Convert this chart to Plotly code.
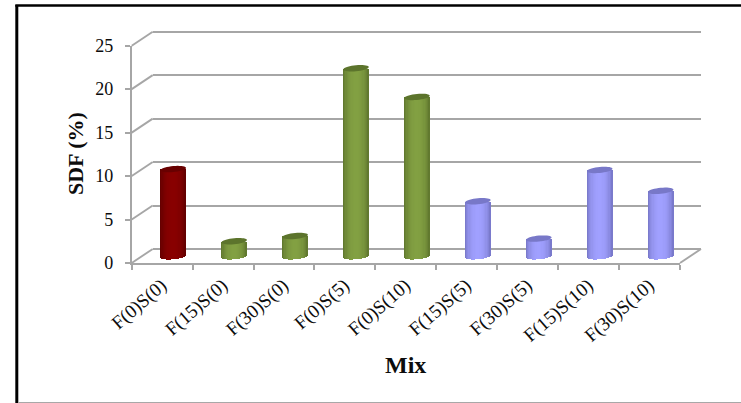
import math
import plotly.graph_objects as go

# Chart data
categories = ["F(0)S(0)", "F(15)S(0)", "F(30)S(0)", "F(0)S(5)", "F(0)S(10)",
              "F(15)S(5)", "F(30)S(5)", "F(15)S(10)", "F(30)S(10)"]
sdf_values = [10.0, 1.7, 2.3, 21.6, 18.3, 6.3, 2.0, 9.9, 7.5]
y_ticks = [0, 5, 10, 15, 20, 25]
y_title = "SDF (%)"
x_title = "Mix"

# (edge colour, centre colour, cap colour) of each cylinder family
RED = ((92, 0, 0), (136, 0, 0), (104, 0, 0))
GREEN = ((88, 110, 42), (130, 160, 66), (92, 116, 44))
BLUE = ((112, 112, 190), (160, 160, 255), (120, 120, 200))
palette = [RED, GREEN, GREEN, GREEN, GREEN, BLUE, BLUE, BLUE, BLUE]

W, H = 741, 403
# Front plane of the pseudo-3D box, in pixels
LEFT, RIGHT, BOTTOM, TOP = 131.7, 680.0, 263.0, 45.7
DEPTH_X, DEPTH_Y = 21.0, 14.0
YMAX = 25
PPU = (BOTTOM - TOP) / YMAX
BAR_W_PX = 25.5
RX, RY, TILT = BAR_W_PX / 2, 3.0, 1.2
SLICES = 21
GRID = "#a6a6a6"
GRID_W = 1.9
FONT = "Liberation Serif"
INK = "#0c0c0c"
PAD = 0.5  # extra y units kept around the value range so the end gridlines stay drawn
LABEL_NUDGE = 0.01  # rotated labels sit slightly left of their slot centre

def xdom(shift):
    return [(LEFT + shift) / W, (RIGHT + shift) / W]

def ydom(shift, low=0.0, high=0.0):
    return [1 - (BOTTOM - shift + low * PPU) / H, 1 - (TOP - shift - high * PPU) / H]

def mix(a, b, f):
    return "rgb(%d,%d,%d)" % tuple(round(p + (q - p) * f) for p, q in zip(a, b))

fig = go.Figure()

# Front plane: holds the visible axes
fig.add_trace(go.Scatter(x=[], y=[], xaxis="x", yaxis="y", showlegend=False))
# Back wall: holds the gridlines
fig.add_trace(go.Scatter(x=[], y=[], xaxis="x2", yaxis="y2", showlegend=False))

# Each cylinder is a row of thin bars shaded from edge to centre, with a curved foot
slot_px = (RIGHT - LEFT) / len(categories)
slice_w = BAR_W_PX / SLICES / slot_px
for i, (val, cols) in enumerate(zip(sdf_values, palette)):
    xs, tops, bases, colors = [], [], [], []
    for s in range(SLICES):
        t = (s + 0.5) / SLICES * 2 - 1
        curve = math.sqrt(1 - t * t)
        foot = (-RY * curve + TILT * t) / PPU
        xs.append(i + t * BAR_W_PX / 2 / slot_px)
        bases.append(foot)
        tops.append(val - foot)
        colors.append(mix(cols[0], cols[1], curve ** 1.3))
    fig.add_trace(go.Bar(x=xs, y=tops, base=bases, width=slice_w * 1.06,
                         marker=dict(color=colors, line_width=0),
                         xaxis="x3", yaxis="y3", showlegend=False,
                         hoverinfo="skip"))

shapes = []

# Diagonals joining the front plane to the back wall at every y tick
for v in y_ticks:
    py = BOTTOM - v * PPU
    shapes.append(dict(type="line", xref="paper", yref="paper", layer="below",
                       x0=LEFT / W, x1=(LEFT + DEPTH_X) / W,
                       y0=1 - py / H, y1=1 - (py - DEPTH_Y) / H,
                       line=dict(color=GRID, width=GRID_W)))
# Right edge of the floor
shapes.append(dict(type="line", xref="paper", yref="paper", layer="below",
                   x0=RIGHT / W, x1=(RIGHT + DEPTH_X) / W,
                   y0=1 - BOTTOM / H, y1=1 - (BOTTOM - DEPTH_Y) / H,
                   line=dict(color=GRID, width=GRID_W)))

# Tilted elliptical caps, anchored at each bar's value
ring = [(RX * math.cos(a * math.pi / 18),
         RY * math.sin(a * math.pi / 18) + TILT * math.cos(a * math.pi / 18))
        for a in range(36)]
cap_path = "M" + " L".join("%.2f,%.2f" % p for p in ring) + " Z"
for i, (val, cols) in enumerate(zip(sdf_values, palette)):
    shapes.append(dict(type="path", path=cap_path, xref="x3", yref="y3",
                       xsizemode="pixel", ysizemode="pixel",
                       xanchor=i, yanchor=val,
                       fillcolor=mix(cols[2], cols[2], 0), line_width=0, layer="above"))

# Outer frame
shapes += [
    dict(type="line", xref="paper", yref="paper", x0=16.8 / W, x1=16.8 / W,
         y0=0, y1=1 - 5 / H, line=dict(color="#000000", width=3)),
    dict(type="line", xref="paper", yref="paper", x0=15.3 / W, x1=1,
         y0=1 - 5.5 / H, y1=1 - 5.5 / H, line=dict(color="#000000", width=2.6)),
    dict(type="line", xref="paper", yref="paper", x0=18 / W, x1=1,
         y0=1 - 402.5 / H, y1=1 - 402.5 / H, line=dict(color="#a8a8a8", width=1)),
]

annotations = [
    dict(text="<b>%s</b>" % y_title, xref="paper", yref="paper", showarrow=False,
         x=75 / W, y=1 - 154 / H, textangle=-90, xanchor="center", yanchor="middle",
         font=dict(family=FONT, size=22, color=INK)),
    dict(text="<b>%s</b>" % x_title, xref="paper", yref="paper", showarrow=False,
         x=406 / W, y=1 - 365 / H, xanchor="center", yanchor="middle",
         font=dict(family=FONT, size=24, color=INK)),
]

positions = list(range(len(categories)))
xrange = [-0.5, len(categories) - 0.5]

fig.update_layout(
    width=W, height=H, margin=dict(l=0, r=0, t=0, b=0, autoexpand=False),
    paper_bgcolor="white", plot_bgcolor="rgba(0,0,0,0)",
    barmode="overlay", bargap=0, showlegend=False,
    shapes=shapes, annotations=annotations,
    font=dict(family=FONT, color=INK),
    xaxis=dict(domain=xdom(0), range=xrange, anchor="y", tickmode="array",
               tickvals=[p - LABEL_NUDGE for p in positions], ticktext=categories,
               tickangle=-41,
               ticks="", ticklen=0, showgrid=False, zeroline=False,
               showline=True, linecolor=GRID, linewidth=GRID_W, automargin=False,
               ticklabelstandoff=2,
               tickfont=dict(family=FONT, size=19, color=INK),
               minor=dict(tickmode="array",
                          tickvals=[p - 0.5 for p in positions] + [positions[-1] + 0.5],
                          ticks="outside", ticklen=5, tickcolor=GRID, tickwidth=GRID_W)),
    yaxis=dict(domain=ydom(0), range=[0, YMAX], anchor="x", tickmode="array",
               tickvals=y_ticks, ticks="outside", ticklen=5, tickcolor=GRID,
               tickwidth=GRID_W, showgrid=False, zeroline=False, showline=True,
               linecolor=GRID, linewidth=GRID_W, automargin=False,
               ticklabelstandoff=8,
               tickfont=dict(family=FONT, size=18, color=INK)),
    xaxis2=dict(domain=xdom(DEPTH_X), range=xrange, anchor="y2", visible=False),
    yaxis2=dict(domain=ydom(DEPTH_Y, low=PAD, high=PAD), range=[-PAD, YMAX + PAD],
                anchor="x2", tickmode="array",
                tickvals=y_ticks, showticklabels=False, ticks="", showline=False,
                showgrid=True, gridcolor=GRID, gridwidth=GRID_W, zeroline=False),
    xaxis3=dict(domain=xdom(DEPTH_X / 2 + 0.6), range=xrange, anchor="y3", visible=False),
    yaxis3=dict(domain=ydom(DEPTH_Y / 2, low=1.0), range=[-1, YMAX], anchor="x3",
                visible=False),
)

fig.write_html("out.html", config={"displayModeBar": False})
